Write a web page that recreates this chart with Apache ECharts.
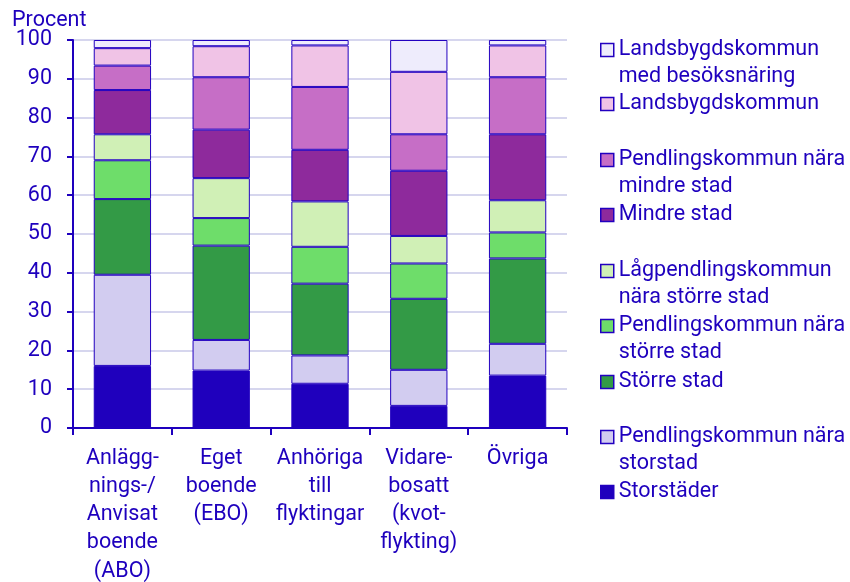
<!DOCTYPE html>
<html>
<head>
<meta charset="utf-8">
<script src="https://cdn.jsdelivr.net/npm/echarts@6/dist/echarts.min.js"></script>
<style>
html, body { margin: 0; padding: 0; background: #fff; }
#chart { width: 850px; height: 582px; }
</style>
</head>
<body>
<div id="chart"></div>
<script>
// categories (x axis)
var categories = [
    'Anlägg-\nnings-/\nAnvisat\nboende\n(ABO)',
    'Eget\nboende\n(EBO)',
    'Anhöriga\ntill\nflyktingar',
    'Vidare-\nbosatt\n(kvot-\nflykting)',
    'Övriga'
];

// series, bottom of the stack first
var seriesNames = [
    'Storstäder',
    'Pendlingskommun nära storstad',
    'Större stad',
    'Pendlingskommun nära större stad',
    'Lågpendlingskommun nära större stad',
    'Mindre stad',
    'Pendlingskommun nära mindre stad',
    'Landsbygdskommun',
    'Landsbygdskommun med besöksnäring'
];
var legendLabels = [
    'Storstäder',
    'Pendlingskommun nära\nstorstad',
    'Större stad',
    'Pendlingskommun nära\nstörre stad',
    'Lågpendlingskommun\nnära större stad',
    'Mindre stad',
    'Pendlingskommun nära\nmindre stad',
    'Landsbygdskommun',
    'Landsbygdskommun\nmed besöksnäring'
];

var storstader         = [16.0, 14.8, 11.4,  5.7, 13.5];
var pendlStorstad      = [23.5,  7.9,  7.3,  9.3,  8.2];
var storreStad         = [19.5, 24.3, 18.5, 18.3, 22.0];
var pendlStorreStad    = [10.0,  7.1,  9.5,  9.1,  6.7];
var lagpendlStorreStad = [ 6.7, 10.3, 11.7,  7.1,  8.3];
var mindreStad         = [11.4, 12.5, 13.3, 16.8, 17.0];
var pendlMindreStad    = [ 6.3, 13.5, 16.2,  9.4, 14.7];
var landsbygd          = [ 4.5,  8.0, 10.7, 16.1,  8.2];
var landsbygdBesok     = [ 2.1,  1.6,  1.4,  8.2,  1.4];

var seriesValues = [storstader, pendlStorstad, storreStad, pendlStorreStad,
    lagpendlStorreStad, mindreStad, pendlMindreStad, landsbygd, landsbygdBesok];

var colors = ['#1f00bd', '#d2ccf0', '#339a46', '#6edd6a', '#d0f0b6',
    '#8e2a9c', '#c66ec6', '#f0c3e6', '#eeecfc'];

// y ticks
var yMin = 0, yMax = 100, yStep = 10;

var ink = '#1e00be';
var font = 'Roboto';
var fs = 21.5;

// legend symbol centres (px from top), top item first
var legendCentres = [50, 104, 160, 215, 271, 326, 382, 437, 492];

var chart = echarts.init(document.getElementById('chart'), null, { renderer: 'canvas' });

var series = seriesValues.map(function (vals, i) {
    return {
        name: seriesNames[i],
        type: 'bar',
        stack: 'total',
        barWidth: '58%',
        data: vals,
        itemStyle: { color: colors[i], borderColor: '#2200c0', borderWidth: 1 },
        emphasis: { disabled: true }
    };
});

// one legend per item so the symbol sits on the first text line;
// two-line labels get an empty leading line so the block centres on line one
var legends = [];
for (var k = 0; k < seriesNames.length; k++) {
    var idx = seriesNames.length - 1 - k;
    var twoLines = legendLabels[idx].indexOf('\n') >= 0;
    var label = twoLines ? ' \n' + legendLabels[idx] : legendLabels[idx];
    legends.push({
        data: [seriesNames[idx]],
        left: 600,
        top: legendCentres[k] - (twoLines ? 40.5 : 13.5),
        padding: 0,
        itemWidth: 13,
        itemHeight: 13,
        selectedMode: false,
        icon: 'rect',
        itemStyle: { borderColor: '#2200c0', borderWidth: 1.5 },
        formatter: (function (lbl) { return function () { return lbl; }; })(label),
        textStyle: { color: ink, fontFamily: font, fontSize: fs, lineHeight: 27 }
    });
}

chart.setOption({
    animation: false,
    color: colors,
    title: {
        text: 'Procent',
        left: 12,
        top: 10,
        padding: 0,
        textStyle: { color: ink, fontFamily: font, fontSize: fs, fontWeight: 'normal' }
    },
    legend: legends,
    grid: {
        left: 73, right: 283, top: 40, bottom: 154,
        containLabel: false, outerBoundsMode: 'none'
    },
    xAxis: {
        type: 'category',
        data: categories,
        axisLine: { lineStyle: { color: ink, width: 2 } },
        axisTick: { show: true, length: 7, lineStyle: { color: ink, width: 2 } },
        axisLabel: {
            color: ink, fontFamily: font, fontSize: fs, lineHeight: 28.3,
            margin: 16, interval: 0
        }
    },
    yAxis: {
        type: 'value',
        min: yMin,
        max: yMax,
        interval: yStep,
        axisLine: { show: true, lineStyle: { color: ink, width: 2 } },
        axisTick: { show: true, length: 6, lineStyle: { color: ink, width: 2 } },
        axisLabel: { color: ink, fontFamily: font, fontSize: fs, margin: 21 },
        splitLine: { show: true, lineStyle: { color: '#d6d6ee', width: 2 } }
    },
    series: series
});
</script>
</body>
</html>
